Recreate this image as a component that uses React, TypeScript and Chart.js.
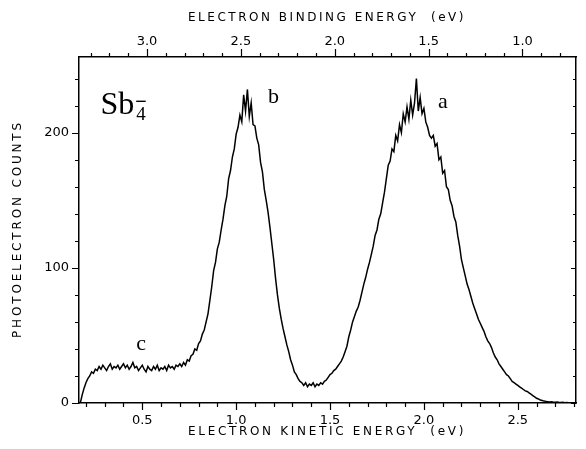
import React, { useEffect, useRef } from "react";
import { Chart, registerables } from "chart.js";

Chart.register(...registerables);

// ---- data ----
const EKE_START = 0.17; // eV, first sample
const EKE_STEP = 0.01; // eV between samples
const COUNTS = [
  0, 6, 11, 15, 18, 20, 23, 22, 25, 24,
  27, 25, 28, 26, 24, 27, 29, 25, 27, 26,
  28, 25, 27, 29, 26, 28, 25, 27, 30, 26,
  27, 24, 26, 28, 25, 23, 27, 25, 24, 27,
  25, 28, 24, 26, 25, 27, 24, 28, 26, 27,
  25, 28, 27, 29, 27, 30, 28, 32, 31, 35,
  36, 40, 39, 44, 46, 51, 54, 60, 66, 76,
  86, 98, 104, 114, 119, 128, 136, 146, 153, 166,
  172, 182, 188, 199, 204, 213, 208, 228, 216, 232,
  212, 222, 206, 205, 196, 191, 178, 171, 158, 150,
  141, 130, 118, 106, 92, 80, 70, 62, 55, 49,
  43, 38, 32, 28, 23, 21, 18, 16, 15, 13,
  15, 12, 14, 13, 15, 12, 14, 13, 15, 14,
  16, 17, 19, 21, 22, 24, 25, 27, 29, 31,
  34, 38, 42, 49, 54, 60, 64, 68, 71, 76,
  82, 88, 93, 99, 104, 110, 116, 124, 128, 136,
  140, 148, 156, 166, 176, 179, 188, 186, 198, 194,
  206, 200, 214, 208, 219, 210, 224, 213, 222, 240,
  216, 226, 214, 218, 208, 204, 198, 196, 198, 190,
  192, 180, 182, 170, 172, 160, 158, 150, 146, 138,
  134, 124, 116, 106, 100, 94, 88, 84, 79, 74,
  70, 66, 62, 59, 56, 53, 49, 46, 44, 41,
  37, 34, 32, 29, 27, 25, 23, 21, 20, 18,
  16, 15, 14, 13, 12, 11, 10, 9, 8.5, 7.5,
  6.5, 5.5, 4.5, 3.5, 3, 2.2, 1.8, 1.4, 1.2, 1,
  0.8, 1, 0.6, 0.5, 0.8, 0.4, 0.3, 0.5, 0.2, 0.3,
  0.2, 0.1, 0.2, 0,
];

const PHOTON_ENERGY = 3.525; // eV, binding = hv - kinetic
const EKE_MIN = 0.163;
const EKE_MAX = 2.81;
const COUNT_MIN = 0;
const COUNT_MAX = 256;

const EKE_TICK_LABELS = [0.5, 1.0, 1.5, 2.0, 2.5];
const EBE_TICK_LABELS = [1.0, 1.5, 2.0, 2.5, 3.0];
const COUNT_TICK_LABELS = [0, 100, 200];
const ENERGY_MINOR_STEP = 0.1;
const COUNT_MINOR_STEP = 20;

const TITLE_TOP = "ELECTRON BINDING ENERGY  (eV)";
const TITLE_BOTTOM = "ELECTRON KINETIC ENERGY  (eV)";
const TITLE_LEFT = "PHOTOELECTRON COUNTS";
const PEAK_LABELS = ["a", "b", "c"];
const SPECIES = "Sb";
const SPECIES_SUB = "4";
const SPECIES_CHARGE_BAR = true;

// ---- styling / placement (not data) ----
const AXIS_FONT = { family: "'DejaVu Sans', sans-serif", size: 13 };
const TITLE_FONT = "12px 'DejaVu Sans', sans-serif";
const SERIF = "'Liberation Serif', 'DejaVu Serif', serif";
const PEAK_LABEL_AT: Record<string, [number, number]> = {
  a: [2.075, 218.6],
  b: [1.17, 221.6],
  c: [0.468, 39.4],
};
const SPECIES_AT: [number, number] = [0.277, 213.6];
const TITLE_CENTER_X = 327;

function drawSpaced(
  ctx: CanvasRenderingContext2D,
  text: string,
  cx: number,
  cy: number,
  target: number,
  rotate: boolean
) {
  ctx.save();
  ctx.font = TITLE_FONT;
  (ctx as any).letterSpacing = "0px";
  const w = ctx.measureText(text).width;
  const sp = Math.max(0, (target - w) / text.length);
  (ctx as any).letterSpacing = sp + "px";
  ctx.translate(cx, cy);
  if (rotate) ctx.rotate(-Math.PI / 2);
  ctx.textAlign = "left";
  ctx.textBaseline = "middle";
  ctx.fillStyle = "#000";
  ctx.fillText(text, -target / 2, 0);
  ctx.restore();
}

function stepValues(lo: number, hi: number, step: number): number[] {
  const out: number[] = [];
  const start = Math.ceil(lo / step - 1e-9);
  const end = Math.floor(hi / step + 1e-9);
  for (let i = start; i <= end; i++) out.push(+(i * step).toFixed(6));
  return out;
}

const isMultiple = (v: number, m: number) =>
  Math.abs(v / m - Math.round(v / m)) < 1e-6;

const decorPlugin = {
  id: "decor",
  afterDraw(chart: any) {
    const { ctx, chartArea, scales } = chart;
    const { left, right, top, bottom } = chartArea;
    const x = scales.x;
    const x2 = scales.x2;
    const y = scales.y;
    ctx.save();
    ctx.strokeStyle = "#000";
    ctx.lineWidth = 1.2;
    ctx.beginPath();
    // bottom ticks (outward)
    for (const v of stepValues(EKE_MIN, EKE_MAX, ENERGY_MINOR_STEP)) {
      const px = Math.round(x.getPixelForValue(v)) + 0.5;
      const len = isMultiple(v, 0.5) ? 7 : 4;
      ctx.moveTo(px, bottom);
      ctx.lineTo(px, bottom + len);
    }
    // top ticks (outward)
    for (const v of stepValues(x2.min, x2.max, ENERGY_MINOR_STEP)) {
      const px = Math.round(x2.getPixelForValue(v)) + 0.5;
      const len = isMultiple(v, 0.5) ? 8 : 4;
      ctx.moveTo(px, top);
      ctx.lineTo(px, top - len);
    }
    // left ticks (outward) and right ticks (inward)
    for (const v of stepValues(COUNT_MIN, COUNT_MAX, COUNT_MINOR_STEP)) {
      const py = Math.round(y.getPixelForValue(v)) + 0.5;
      const major = isMultiple(v, 100);
      ctx.moveTo(left, py);
      ctx.lineTo(left - (major ? 7 : 4), py);
      ctx.moveTo(right, py);
      ctx.lineTo(right - (major ? 5 : 3), py);
    }
    ctx.stroke();
    ctx.restore();

    // axis titles
    drawSpaced(ctx, TITLE_TOP, TITLE_CENTER_X, 18, 278, false);
    drawSpaced(ctx, TITLE_BOTTOM, TITLE_CENTER_X, 432, 278, false);
    drawSpaced(ctx, TITLE_LEFT, 18, 229, 218, true);

    // species label
    ctx.save();
    ctx.fillStyle = "#000";
    ctx.strokeStyle = "#000";
    ctx.textAlign = "left";
    ctx.textBaseline = "alphabetic";
    const sx = x.getPixelForValue(SPECIES_AT[0]);
    const sy = y.getPixelForValue(SPECIES_AT[1]);
    ctx.font = `32px ${SERIF}`;
    ctx.fillText(SPECIES, sx, sy);
    const sw = ctx.measureText(SPECIES).width;
    ctx.font = `19px ${SERIF}`;
    const subX = sx + sw + 2;
    ctx.fillText(SPECIES_SUB, subX, sy + 6);
    if (SPECIES_CHARGE_BAR) {
      const subW = ctx.measureText(SPECIES_SUB).width;
      ctx.lineWidth = 1.4;
      ctx.beginPath();
      ctx.moveTo(subX, sy - 13);
      ctx.lineTo(subX + subW, sy - 13);
      ctx.stroke();
    }
    // peak labels
    ctx.font = `22px ${SERIF}`;
    for (const name of PEAK_LABELS) {
      const [vx, vy] = PEAK_LABEL_AT[name];
      ctx.fillText(name, x.getPixelForValue(vx), y.getPixelForValue(vy));
    }
    ctx.restore();
  },
};

export default function App() {
  const canvasRef = useRef<HTMLCanvasElement | null>(null);

  useEffect(() => {
    const canvas = canvasRef.current;
    if (!canvas) return;
    const points = COUNTS.map((c, i) => ({
      x: +(EKE_START + i * EKE_STEP).toFixed(4),
      y: c,
    }));
    const border = { display: true, color: "#000", width: 1.5 };
    const chart = new Chart(canvas, {
      type: "line",
      data: {
        datasets: [
          {
            data: points,
            borderColor: "#000",
            borderWidth: 1.5,
            pointRadius: 0,
            tension: 0,
            fill: false,
          },
        ],
      },
      options: {
        animation: false,
        responsive: false,
        devicePixelRatio: 1,
        layout: { padding: 0 },
        plugins: {
          legend: { display: false },
          tooltip: { enabled: false },
        },
        scales: {
          x: {
            type: "linear",
            position: "bottom",
            min: EKE_MIN,
            max: EKE_MAX,
            grid: { display: false, drawTicks: false },
            border,
            afterBuildTicks: (s: any) => {
              s.ticks = EKE_TICK_LABELS.map((v) => ({ value: v }));
            },
            afterFit: (s: any) => {
              s.height = 46;
            },
            ticks: {
              padding: 10,
              color: "#000",
              font: AXIS_FONT,
              maxRotation: 0,
              autoSkip: false,
              callback: (v: any) => Number(v).toFixed(1),
            },
          },
          x2: {
            type: "linear",
            position: "top",
            reverse: true,
            min: PHOTON_ENERGY - EKE_MAX,
            max: PHOTON_ENERGY - EKE_MIN,
            grid: { display: false, drawTicks: false },
            border,
            afterBuildTicks: (s: any) => {
              s.ticks = EBE_TICK_LABELS.map((v) => ({ value: v }));
            },
            afterFit: (s: any) => {
              s.height = 57;
            },
            ticks: {
              padding: 8,
              color: "#000",
              font: AXIS_FONT,
              maxRotation: 0,
              autoSkip: false,
              callback: (v: any) => Number(v).toFixed(1),
            },
          },
          y: {
            type: "linear",
            position: "left",
            min: COUNT_MIN,
            max: COUNT_MAX,
            grid: { display: false, drawTicks: false },
            border,
            afterBuildTicks: (s: any) => {
              s.ticks = COUNT_TICK_LABELS.map((v) => ({ value: v }));
            },
            afterFit: (s: any) => {
              s.width = 79;
            },
            ticks: {
              padding: 10,
              color: "#000",
              font: AXIS_FONT,
              autoSkip: false,
              callback: (v: any) => String(v),
            },
          },
          y2: {
            type: "linear",
            position: "right",
            min: COUNT_MIN,
            max: COUNT_MAX,
            grid: { display: false, drawTicks: false },
            border,
            ticks: { display: false },
            afterFit: (s: any) => {
              s.width = 10;
            },
          },
        },
      },
      plugins: [decorPlugin],
    } as any);
    return () => chart.destroy();
  }, []);

  return (
    <div
      style={{
        position: "absolute",
        left: 0,
        top: 0,
        width: 586,
        height: 449,
        background: "#fff",
      }}
    >
      <canvas ref={canvasRef} width={586} height={449} />
    </div>
  );
}
